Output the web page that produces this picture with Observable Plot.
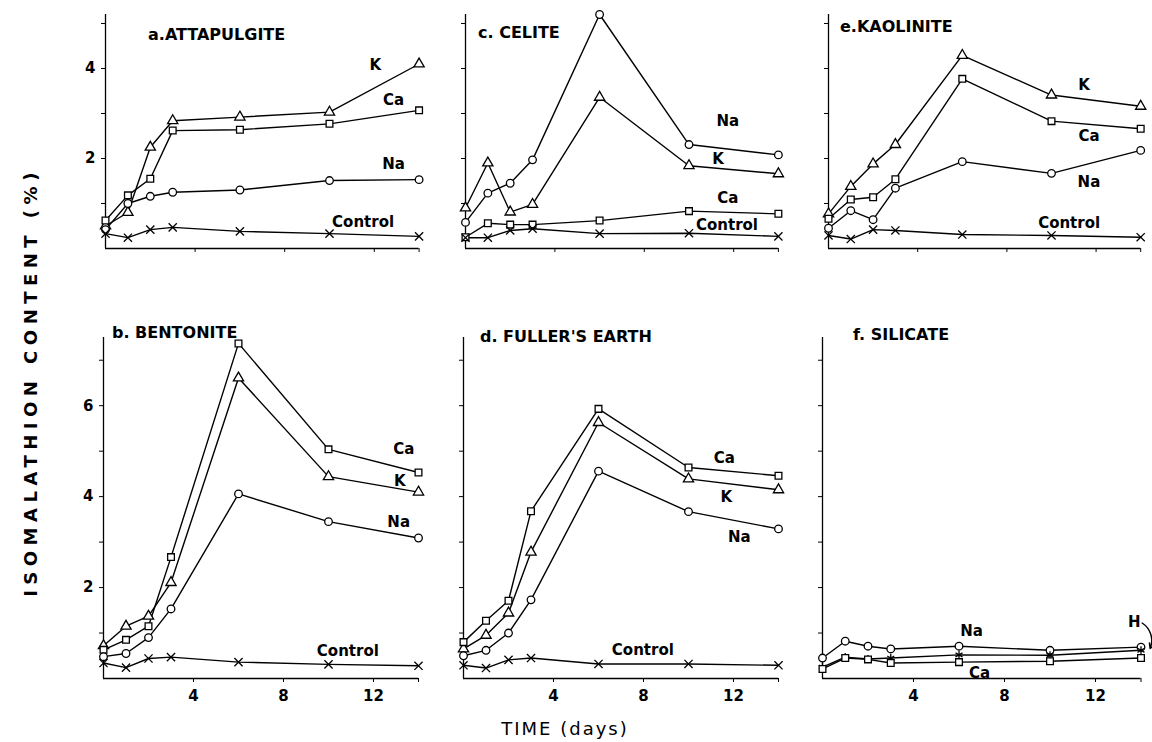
<!DOCTYPE html>
<html>
<head>
<meta charset="utf-8">
<script src="https://cdn.jsdelivr.net/npm/d3@7"></script>
<script src="https://cdn.jsdelivr.net/npm/@observablehq/plot@0.6"></script>
<style>
  html, body { margin: 0; padding: 0; background: #fff; }
  #chart { position: relative; width: 1152px; height: 742px; background: #fff; overflow: hidden; font-family: "DejaVu Sans", sans-serif; color: #000; }
  .ptitle { position: absolute; font: bold 16px "DejaVu Sans", sans-serif; white-space: nowrap; line-height: 1; }
  #ytitle { position: absolute; left: 30px; top: 382px; transform: translate(-50%, -50%) rotate(-90deg); font: bold 18px "DejaVu Sans", sans-serif; letter-spacing: 5.5px; white-space: nowrap; }
  #xtitle { position: absolute; left: 565px; top: 728px; transform: translate(-50%, -50%); font: 18px "DejaVu Sans", sans-serif; letter-spacing: 2px; white-space: nowrap; }
</style>
</head>
<body>
<div id="chart"></div>
<script>
// ---------------- data ----------------
const days = [0, 1, 2, 3, 6, 10, 14];

// a. Attapulgite
const attK   = [0.50, 0.80, 2.25, 2.84, 2.92, 3.03, 4.10];
const attCa  = [0.62, 1.18, 1.55, 2.62, 2.64, 2.77, 3.07];
const attNa  = [0.42, 1.00, 1.16, 1.25, 1.30, 1.51, 1.53];
const attCtl = [0.33, 0.24, 0.42, 0.47, 0.38, 0.33, 0.27];

// c. Celite
const celNa  = [0.58, 1.23, 1.45, 1.97, 5.20, 2.31, 2.08];
const celK   = [0.90, 1.90, 0.81, 0.98, 3.36, 1.84, 1.66];
const celCa  = [0.25, 0.56, 0.53, 0.53, 0.62, 0.83, 0.77];
const celCtl = [0.24, 0.24, 0.40, 0.44, 0.33, 0.34, 0.27];

// e. Kaolinite
const kaoK   = [0.77, 1.38, 1.88, 2.31, 4.29, 3.41, 3.16];
const kaoCa  = [0.66, 1.09, 1.14, 1.54, 3.77, 2.83, 2.66];
const kaoNa  = [0.45, 0.84, 0.64, 1.34, 1.93, 1.67, 2.18];
const kaoCtl = [0.29, 0.21, 0.42, 0.40, 0.31, 0.29, 0.25];

// b. Bentonite
const benCa  = [0.63, 0.85, 1.15, 2.67, 7.37, 5.04, 4.53];
const benK   = [0.72, 1.15, 1.37, 2.11, 6.61, 4.44, 4.10];
const benNa  = [0.48, 0.55, 0.90, 1.53, 4.06, 3.45, 3.09];
const benCtl = [0.34, 0.24, 0.44, 0.47, 0.36, 0.31, 0.28];

// d. Fuller's earth
const fulCa  = [0.80, 1.27, 1.71, 3.68, 5.93, 4.64, 4.46];
const fulK   = [0.65, 0.95, 1.44, 2.78, 5.63, 4.39, 4.15];
const fulNa  = [0.50, 0.62, 1.00, 1.73, 4.56, 3.67, 3.29];
const fulCtl = [0.29, 0.23, 0.41, 0.45, 0.32, 0.32, 0.29];

// f. Silicate
const silNa  = [0.45, 0.82, 0.71, 0.65, 0.71, 0.62, 0.69];
const silH   = [0.25, 0.47, 0.43, 0.45, 0.52, 0.51, 0.62];
const silCa  = [0.21, 0.45, 0.42, 0.34, 0.36, 0.38, 0.45];

const seriesNames = ["K", "Ca", "Na", "Control", "H"];
const seriesSymbols = ["triangle", "square", "circle", "times", "asterisk"];
const yTickLabels = ["2", "4", "6"];
const xTickLabels = ["4", "8", "12"];

// ---------------- helpers ----------------
function toRows(series) {
  const rows = [];
  for (const [name, vals] of Object.entries(series)) {
    vals.forEach((v, i) => rows.push({day: days[i], value: v, series: name}));
  }
  return rows;
}

const chart = document.getElementById("chart");

function panel(cfg) {
  const row = cfg.row === 0
    ? {y0: 248, yTop: 14, ymax: 5.2, yticks: [1, 2, 3, 4, 5], svgTop: 0, mb: 14}
    : {y0: 678, yTop: 337, ymax: 7.5, yticks: [1, 2, 3, 4, 5, 6, 7], svgTop: 300, mb: 36};
  const mL = 45, mR = 14;
  const plotW = cfg.pxPerDay * 14;
  const mT = row.yTop - row.svgTop;
  const height = mT + (row.y0 - row.yTop) + row.mb;
  const rows = toRows(cfg.series);
  const marks = [
    Plot.ruleX([0], {y1: 0, y2: row.ymax, stroke: "black", strokeWidth: 1.3}),
    Plot.ruleY([0], {x1: 0, x2: 14, stroke: "black", strokeWidth: 1.3}),
    Plot.axisY({ticks: row.yticks, tickSize: 4, tickPadding: 6, label: null,
      tickFormat: d => (cfg.yLabels && yTickLabels.includes(String(d))) ? String(d) : "",
      fontSize: 15, fontWeight: "bold"}),
    Plot.axisX({ticks: [4, 8, 12, 14], tickSize: 4, tickPadding: 8, label: null,
      tickFormat: d => (cfg.row === 1 && xTickLabels.includes(String(d))) ? String(d) : "",
      fontSize: 15, fontWeight: "bold"}),
    Plot.line(rows, {x: "day", y: "value", z: "series", stroke: "black", strokeWidth: 1.4}),
    Plot.dot(rows, {x: "day", y: "value", symbol: "series", fill: "white", stroke: "black", strokeWidth: 1.3, r: 3.8}),
    Plot.text(cfg.labels, {x: "x", y: "y", text: "t", fontSize: 15, fontWeight: "bold", fill: "black"})
  ];
  if (cfg.arrow) {
    marks.push(Plot.arrow(cfg.arrow, {x1: "x1", y1: "y1", x2: "x2", y2: "y2", bend: 40, stroke: "black", strokeWidth: 1.4, headLength: 6}));
  }
  const svg = Plot.plot({
    width: mL + plotW + mR,
    height,
    marginLeft: mL, marginRight: mR, marginTop: mT, marginBottom: row.mb,
    x: {domain: [0, 14], axis: null},
    y: {domain: [0, row.ymax], axis: null},
    symbol: {domain: seriesNames, range: seriesSymbols},
    style: {position: "absolute", left: (cfg.x0 - mL) + "px", top: row.svgTop + "px",
      background: "transparent", overflow: "visible", fontFamily: "DejaVu Sans, sans-serif",
      color: "black", maxWidth: "none"},
    marks
  });
  chart.appendChild(svg);

  const t = document.createElement("div");
  t.className = "ptitle";
  t.textContent = cfg.title;
  t.style.left = cfg.titlePos[0] + "px";
  t.style.top = (cfg.titlePos[1] - 8) + "px";
  chart.appendChild(t);
}

panel({row: 0, x0: 105, pxPerDay: 22.4, yLabels: true, title: "a.ATTAPULGITE", titlePos: [148, 35],
  series: {K: attK, Ca: attCa, Na: attNa, Control: attCtl},
  labels: [{x: 12.05, y: 4.07, t: "K"}, {x: 12.86, y: 3.29, t: "Ca"}, {x: 12.86, y: 1.87, t: "Na"}, {x: 11.5, y: 0.58, t: "Control"}]});

panel({row: 0, x0: 465, pxPerDay: 22.35, yLabels: false, title: "c. CELITE", titlePos: [478, 33],
  series: {K: celK, Ca: celCa, Na: celNa, Control: celCtl},
  labels: [{x: 11.74, y: 2.84, t: "Na"}, {x: 11.3, y: 1.98, t: "K"}, {x: 11.74, y: 1.11, t: "Ca"}, {x: 11.7, y: 0.51, t: "Control"}]});

panel({row: 0, x0: 828, pxPerDay: 22.3, yLabels: false, title: "e.KAOLINITE", titlePos: [840, 27],
  series: {K: kaoK, Ca: kaoCa, Na: kaoNa, Control: kaoCtl},
  labels: [{x: 11.46, y: 3.62, t: "K"}, {x: 11.68, y: 2.49, t: "Ca"}, {x: 11.68, y: 1.47, t: "Na"}, {x: 10.79, y: 0.56, t: "Control"}]});

panel({row: 1, x0: 102.7, pxPerDay: 22.5, yLabels: true, title: "b. BENTONITE", titlePos: [112, 333],
  series: {K: benK, Ca: benCa, Na: benNa, Control: benCtl},
  labels: [{x: 13.35, y: 5.05, t: "Ca"}, {x: 13.17, y: 4.35, t: "K"}, {x: 13.12, y: 3.44, t: "Na"}, {x: 10.86, y: 0.59, t: "Control"}]});

panel({row: 1, x0: 463.3, pxPerDay: 22.5, yLabels: false, title: "d. FULLER'S EARTH", titlePos: [480, 337],
  series: {K: fulK, Ca: fulCa, Na: fulNa, Control: fulCtl},
  labels: [{x: 11.59, y: 4.84, t: "Ca"}, {x: 11.68, y: 3.98, t: "K"}, {x: 12.26, y: 3.1, t: "Na"}, {x: 7.97, y: 0.62, t: "Control"}]});

panel({row: 1, x0: 821.7, pxPerDay: 22.75, yLabels: false, title: "f. SILICATE", titlePos: [853, 335],
  series: {Na: silNa, H: silH, Ca: silCa},
  labels: [{x: 6.55, y: 1.05, t: "Na"}, {x: 6.9, y: 0.11, t: "Ca"}, {x: 13.7, y: 1.23, t: "H"}],
  arrow: [{x1: 14.05, y1: 1.22, x2: 14.4, y2: 0.66}]});

const yt = document.createElement("div");
yt.id = "ytitle"; yt.textContent = "ISOMALATHION CONTENT (%)";
chart.appendChild(yt);
const xt = document.createElement("div");
xt.id = "xtitle"; xt.textContent = "TIME (days)";
chart.appendChild(xt);
</script>
</body>
</html>
